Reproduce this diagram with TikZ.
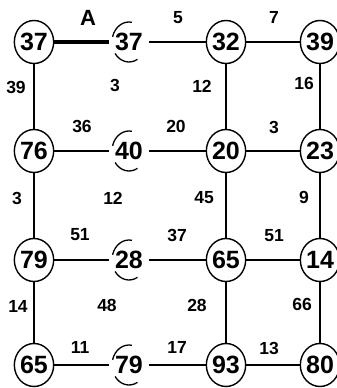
\documentclass[tikz,border=0pt]{standalone}
\usepackage{fontspec}
\setmainfont{Liberation Sans}
\usetikzlibrary{shapes.geometric}
\tikzset{
  cell/.style={ellipse,draw,line width=1.4pt,minimum width=37pt,minimum height=43pt,
    inner sep=0pt,font=\fontsize{25}{25}\selectfont\bfseries},
  open cell/.style={cell,draw=none,minimum width=34pt,minimum height=40pt},
  link/.style={line width=1.2pt},
  cost/.style={font=\fontsize{17.5}{17.5}\selectfont\bfseries},
  % broken ring round the cells of the second column
  pics/ring/.style={code={
    \draw[line width=1.3pt] (165:17pt and 20pt) arc[start angle=165,end angle=80,x radius=17pt,y radius=20pt];
    \draw[line width=1.3pt] (215:17pt and 20pt) arc[start angle=215,end angle=300,x radius=17pt,y radius=20pt];
  }},
}
\begin{document}
\begin{tikzpicture}[x=1pt,y=1pt]
  \useasboundingbox (0,0) rectangle (337,388);
  % cells
  \foreach \n/\x/\y/\t in {a1/34/346/37,c1/226/346/32,d1/320/346/39,
      a2/34/237/76,c2/226/237/20,d2/320/237/23,
      a3/34/128/79,c3/226/128/65,d3/320/128/14,
      a4/34/23/65,c4/226/23/93,d4/320/23/80}
    \node[cell] (\n) at (\x,\y) {\t};
  \foreach \n/\y/\t in {b1/346/37,b2/237/40,b3/128/28,b4/23/79}{
    \node[open cell] (\n) at (129,\y) {\t};
    \pic at (\n) {ring};
  }
  % links
  \foreach \p/\q in {a1/a2,a2/a3,a3/a4,c1/c2,c2/c3,c3/c4,d1/d2,d2/d3,d3/d4,
      b1/c1,c1/d1,a2/b2,b2/c2,c2/d2,a3/b3,b3/c3,c3/d3,a4/b4,b4/c4,c4/d4}
    \draw[link] (\p) -- (\q);
  \draw[line width=4pt] (a1) -- (b1);
  \node[font=\fontsize{22}{22}\selectfont\bfseries] (tagA) at (88,370) {A};
  % costs
  \foreach \t/\x/\y [count=\i] in {5/178/370,7/274/371,
      39/16/301,3/115/303,12/202/302,16/304/305,
      36/82/262,20/176/262,3/274/261,
      3/17/190,12/113/190,45/204/190,9/304/191,
      51/80/153,37/177/153,51/274/152,
      14/18/82,48/107/83,28/197/83,66/302/84,
      11/80/41,17/177/41,13/269/40}
    \node[cost] (w\i) at (\x,\y) {\t};
\end{tikzpicture}
\end{document}
